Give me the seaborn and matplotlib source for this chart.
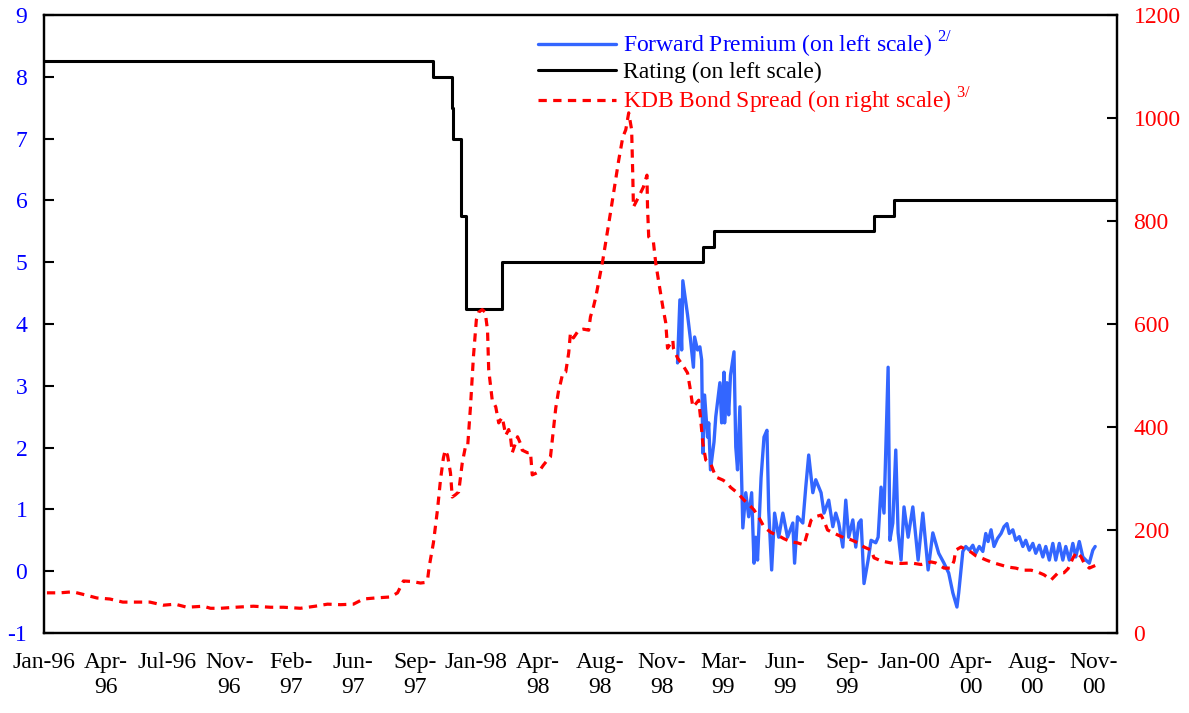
import matplotlib
matplotlib.use("Agg")
import matplotlib.pyplot as plt
import seaborn as sns
import pandas as pd

# KDB bond spread, basis points (right scale)
spread_dates = [
    "1996-01-06", "1996-01-28", "1996-02-19", "1996-03-11", "1996-03-31", "1996-04-22",
    "1996-05-14", "1996-06-12", "1996-06-29", "1996-07-22", "1996-08-11", "1996-08-31",
    "1996-09-28", "1996-10-10", "1996-10-27", "1996-11-21", "1996-12-22", "1997-01-20",
    "1997-02-11", "1997-03-12", "1997-04-06", "1997-04-27", "1997-05-19", "1997-06-10",
    "1997-06-27", "1997-07-17", "1997-08-12", "1997-08-24", "1997-09-03", "1997-09-18",
    "1997-10-02", "1997-10-09", "1997-10-14", "1997-10-17", "1997-10-24", "1997-10-31",
    "1997-11-05", "1997-11-10", "1997-11-13", "1997-11-17", "1997-11-22", "1997-11-25",
    "1997-11-30", "1997-12-06", "1997-12-12", "1997-12-17", "1997-12-21", "1997-12-26",
    "1997-12-31", "1998-01-05", "1998-01-09", "1998-01-15", "1998-01-20", "1998-01-24",
    "1998-01-26", "1998-02-01", "1998-02-07", "1998-02-12", "1998-02-18", "1998-02-24",
    "1998-03-01", "1998-03-04", "1998-03-07", "1998-03-13", "1998-03-16", "1998-03-21",
    "1998-03-24", "1998-04-02", "1998-04-07", "1998-04-10", "1998-04-16", "1998-04-21",
    "1998-04-29", "1998-05-06", "1998-05-11", "1998-05-16", "1998-05-20", "1998-05-25",
    "1998-05-28", "1998-06-01", "1998-06-06", "1998-06-11", "1998-06-14", "1998-06-19",
    "1998-06-28", "1998-07-06", "1998-07-15", "1998-07-18", "1998-07-23", "1998-07-27",
    "1998-08-08", "1998-08-21", "1998-09-04", "1998-09-11", "1998-09-16", "1998-09-21",
    "1998-09-26", "1998-09-28", "1998-09-29", "1998-10-08", "1998-10-16", "1998-10-22",
    "1998-10-23", "1998-10-25", "1998-11-02", "1998-11-06", "1998-11-11", "1998-11-18",
    "1998-11-23", "1998-11-26", "1998-12-05", "1998-12-06", "1998-12-13", "1998-12-22",
    "1998-12-30", "1999-01-03", "1999-01-08", "1999-01-13", "1999-01-18", "1999-01-21",
    "1999-01-25", "1999-01-30", "1999-02-07", "1999-02-16", "1999-02-28", "1999-03-08",
    "1999-03-13", "1999-03-25", "1999-04-05", "1999-04-13", "1999-04-22", "1999-04-30",
    "1999-05-09", "1999-05-21", "1999-06-01", "1999-06-12", "1999-06-24", "1999-07-05",
    "1999-07-16", "1999-07-22", "1999-07-28", "1999-08-05", "1999-08-14", "1999-08-20",
    "1999-08-25", "1999-09-03", "1999-09-12", "1999-09-22", "1999-10-04", "1999-10-16",
    "1999-10-26", "1999-11-07", "1999-11-12", "1999-11-24", "1999-12-11", "1999-12-28",
    "2000-01-14", "2000-01-31", "2000-02-17", "2000-02-25", "2000-03-10", "2000-03-22",
    "2000-03-27", "2000-03-30", "2000-04-08", "2000-04-16", "2000-04-25", "2000-05-03",
    "2000-05-12", "2000-05-20", "2000-05-29", "2000-06-06", "2000-06-15", "2000-06-27",
    "2000-07-10", "2000-07-22", "2000-08-05", "2000-08-17", "2000-08-27", "2000-09-08",
    "2000-09-20", "2000-09-30", "2000-10-07", "2000-10-15", "2000-10-21", "2000-10-29",
    "2000-11-03", "2000-11-12", "2000-11-24",
]
spread_bp = [
    78, 78, 80, 74, 68, 66,
    60, 60, 60, 54, 56, 50,
    52, 48, 48, 50, 52, 50,
    50, 48, 52, 56, 55, 56,
    66, 68, 70, 78, 101, 100,
    97, 98, 103, 130, 175, 240,
    297, 340, 355, 345, 311, 264,
    268, 274, 330, 359, 359, 439,
    536, 608, 623, 628, 623, 588,
    511, 452, 439, 408, 419, 384,
    395, 381, 350, 370, 381, 368,
    355, 350, 351, 307, 310, 313,
    326, 336, 342, 394, 437, 472,
    485, 505, 507, 544, 583, 573,
    588, 590, 588, 614, 633, 652,
    724, 816, 918, 963, 977, 1010,
    977, 885, 827, 847, 866, 889,
    827, 769, 759, 718, 682, 633,
    602, 553, 569, 553, 534, 520,
    505, 478, 439, 445, 452, 419,
    369, 336, 330, 303, 297, 291,
    283, 272, 258, 250, 239, 225,
    206, 195, 190, 183, 177, 175,
    171, 195, 219, 226, 229, 215,
    200, 195, 190, 185, 181, 175,
    167, 161, 146, 140, 136, 135,
    136, 133, 138, 136, 126, 126,
    140, 161, 167, 162, 157, 150,
    146, 142, 138, 135, 132, 128,
    126, 122, 122, 118, 113, 103,
    117, 117, 125, 145, 157, 148,
    136, 126, 132,
]

# Forward premium, percent (left scale)
premium_dates = [
    "1998-12-13", "1998-12-17", "1998-12-20", "1998-12-22", "1998-12-30", "1999-01-04",
    "1999-01-09", "1999-01-11", "1999-01-16", "1999-01-20", "1999-01-23", "1999-01-25",
    "1999-01-28", "1999-02-02", "1999-02-04", "1999-02-07", "1999-02-13", "1999-02-16",
    "1999-02-23", "1999-02-26", "1999-03-02", "1999-03-03", "1999-03-07", "1999-03-10",
    "1999-03-13", "1999-03-19", "1999-03-22", "1999-03-25", "1999-03-29", "1999-04-03",
    "1999-04-08", "1999-04-13", "1999-04-18", "1999-04-22", "1999-04-25", "1999-04-28",
    "1999-05-04", "1999-05-09", "1999-05-14", "1999-05-17", "1999-05-22", "1999-05-27",
    "1999-06-03", "1999-06-10", "1999-06-18", "1999-06-27", "1999-06-30", "1999-07-05",
    "1999-07-14", "1999-07-19", "1999-07-24", "1999-07-31", "1999-08-05", "1999-08-14",
    "1999-08-19", "1999-08-27", "1999-09-03", "1999-09-08", "1999-09-13", "1999-09-20",
    "1999-09-25", "1999-09-30", "1999-10-07", "1999-10-12", "1999-10-17", "1999-10-21",
    "1999-10-26", "1999-11-02", "1999-11-07", "1999-11-15", "1999-11-19", "1999-11-24",
    "1999-11-29", "1999-12-06", "1999-12-09", "1999-12-14", "1999-12-19", "1999-12-23",
    "1999-12-28", "2000-01-02", "2000-01-09", "2000-01-17", "2000-01-26", "2000-02-03",
    "2000-02-12", "2000-02-20", "2000-03-01", "2000-03-10", "2000-03-18", "2000-03-25",
    "2000-04-01", "2000-04-04", "2000-04-11", "2000-04-16", "2000-04-22", "2000-04-28",
    "2000-05-03", "2000-05-09", "2000-05-15", "2000-05-20", "2000-05-24", "2000-05-29",
    "2000-06-03", "2000-06-09", "2000-06-15", "2000-06-20", "2000-06-25", "2000-06-29",
    "2000-07-05", "2000-07-10", "2000-07-16", "2000-07-22", "2000-07-27", "2000-08-02",
    "2000-08-08", "2000-08-13", "2000-08-19", "2000-08-25", "2000-08-30", "2000-09-05",
    "2000-09-11", "2000-09-16", "2000-09-22", "2000-09-28", "2000-10-03", "2000-10-09",
    "2000-10-15", "2000-10-20", "2000-10-26", "2000-11-01", "2000-11-06", "2000-11-12",
    "2000-11-18", "2000-11-22",
]
premium_pct = [
    3.37, 4.39, 3.58, 4.70, 4.15, 3.75,
    3.30, 3.79, 3.58, 3.63, 3.42, 1.91,
    2.85, 2.17, 2.40, 1.64, 2.09, 2.50,
    3.05, 2.40, 3.22, 2.40, 3.05, 2.53,
    3.17, 3.55, 2.01, 1.64, 2.66, 0.70,
    1.27, 0.88, 1.27, 0.13, 0.55, 0.18,
    1.51, 2.17, 2.28, 0.99, 0.02, 0.94,
    0.55, 0.94, 0.55, 0.78, 0.13, 0.88,
    0.78, 1.36, 1.88, 1.27, 1.48, 1.27,
    0.94, 1.15, 0.72, 0.94, 0.78, 0.39,
    1.15, 0.55, 0.83, 0.39, 0.78, 0.83,
    -0.20, 0.18, 0.50, 0.46, 0.55, 1.36,
    0.94, 3.30, 0.50, 0.78, 1.96, 0.62,
    0.18, 1.04, 0.55, 1.04, 0.18, 0.94,
    0.02, 0.62, 0.29, 0.13, -0.03, -0.35,
    -0.58, -0.35, 0.32, 0.40, 0.34, 0.42,
    0.29, 0.40, 0.32, 0.61, 0.48, 0.67,
    0.40, 0.53, 0.61, 0.72, 0.77, 0.61,
    0.67, 0.50, 0.56, 0.40, 0.50, 0.34,
    0.45, 0.29, 0.42, 0.23, 0.40, 0.18,
    0.45, 0.18, 0.45, 0.18, 0.40, 0.18,
    0.45, 0.23, 0.48, 0.23, 0.18, 0.13,
    0.34, 0.40,
]

# Sovereign rating, numeric scale (left scale), value holds until next date
rating_dates = [
    "1996-01-01", "1997-10-24", "1997-11-25", "1997-11-27", "1997-12-10", "1997-12-19",
    "1998-02-18", "1999-01-25", "1999-02-13", "1999-11-12", "1999-12-16", "2000-12-29",
]
rating_levels = [8.25, 8.0, 7.5, 7.0, 5.75, 4.25, 5.0, 5.25, 5.5, 5.75, 6.0, 6.0]

tick_labels = [
    "Jan-96", "Apr-\n96", "Jul-96", "Nov-\n96", "Feb-\n97", "Jun-\n97",
    "Sep-\n97", "Jan-98", "Apr-\n98", "Aug-\n98", "Nov-\n98", "Mar-\n99",
    "Jun-\n99", "Sep-\n99", "Jan-00", "Apr-\n00", "Aug-\n00", "Nov-\n00",
]

sns.set_style("ticks")
plt.rcParams["font.family"] = ["Liberation Serif", "DejaVu Serif"]
plt.rcParams["mathtext.fontset"] = "custom"
plt.rcParams["mathtext.rm"] = "Liberation Serif"
plt.rcParams["axes.unicode_minus"] = False

fig = plt.figure(figsize=(11.89, 7.13), dpi=100)
ax = fig.add_axes([0.037, 0.1122, 0.9024, 0.8668])
ax2 = ax.twinx()

sns.lineplot(x=pd.to_datetime(premium_dates), y=premium_pct, ax=ax,
             color="#3366ff", lw=2.4, sort=False, estimator=None)
sns.lineplot(x=pd.to_datetime(rating_dates), y=rating_levels, ax=ax,
             color="black", lw=2.2, drawstyle="steps-post", sort=False, estimator=None)
sns.lineplot(x=pd.to_datetime(spread_dates), y=spread_bp, ax=ax2,
             color="#ff0000", lw=2.3, linestyle=(0, (2.6, 2.0)), sort=False, estimator=None)

ax.set_xlim(pd.Timestamp("1996-01-01"), pd.Timestamp("2000-12-29"))
ax.set_ylim(-1, 9)
ax.set_yticks(range(-1, 10))
ax2.set_ylim(0, 1200)
ax2.set_yticks(range(0, 1201, 200))

ticks = pd.date_range("1996-01-01", periods=len(tick_labels), freq="105D")
ax.set_xticks(ticks)
ax.set_xticklabels(tick_labels, va="top", ha="center")

ax.tick_params(axis="x", length=0, pad=14, labelsize=17, colors="black")
ax.tick_params(axis="y", direction="in", length=7, width=1.5, pad=12,
               labelsize=17, labelcolor="#0000ff", color="black")
ax2.tick_params(axis="y", direction="in", length=7, width=1.5, pad=12,
                labelsize=17, labelcolor="#ff0000", color="black")
for a in (ax, ax2):
    a.set_xlabel("")
    a.set_ylabel("")
    for sp in a.spines.values():
        sp.set_visible(True)
        sp.set_color("black")
        sp.set_linewidth(1.6)

handles = ax.get_lines() + ax2.get_lines()
labels = [
    r"Forward Premium (on left scale) $^{\mathrm{2/}}$",
    "Rating (on left scale)",
    r"KDB Bond Spread (on right scale) $^{\mathrm{3/}}$",
]
leg = ax2.legend(handles, labels, loc="upper left", bbox_to_anchor=(0.4604, 0.976),
                 frameon=False, fontsize=17, handlelength=3.3, handletextpad=0.3,
                 labelspacing=0.08, borderpad=0, borderaxespad=0)
for txt, col in zip(leg.get_texts(), ["#0000ff", "black", "#ff0000"]):
    txt.set_color(col)

fig.savefig("out.png", dpi=100)
